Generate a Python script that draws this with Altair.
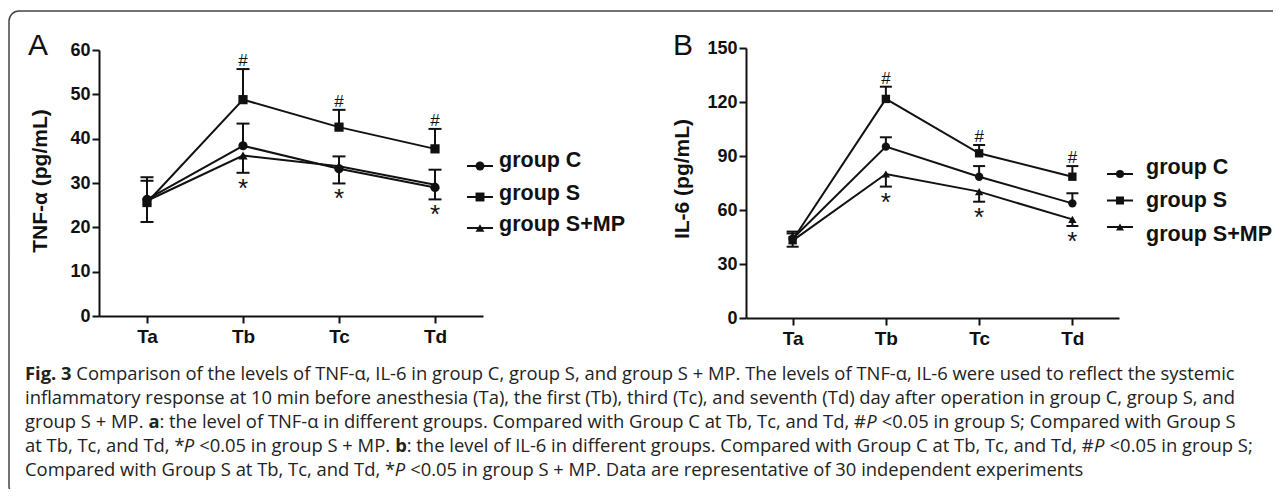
import altair as alt
import pandas as pd

# ---------------- data ----------------
times = ["Ta", "Tb", "Tc", "Td"]
groups = ["group C", "group S", "group S+MP"]
shapes = ["circle", "square", "triangle-up"]

tnf_C = [26.3, 38.4, 33.2, 29.0]
tnf_S = [25.6, 48.8, 42.6, 37.7]
tnf_MP = [26.0, 36.2, 33.8, 29.6]
tnf_err_C = [4.2, 5.0, 2.8, 4.0]
tnf_err_S = [5.7, 6.9, 3.9, 4.5]
tnf_err_MP = [4.8, 3.9, 3.9, 3.3]

il6_C = [44.0, 95.2, 78.5, 63.7]
il6_S = [43.3, 121.7, 91.5, 78.5]
il6_MP = [43.0, 80.0, 70.2, 54.8]
il6_err_C = [3.0, 5.2, 5.9, 5.6]
il6_err_S = [4.7, 6.8, 4.6, 5.9]
il6_err_MP = [3.4, 7.0, 5.6, 3.7]

err_sign = {"group C": 1, "group S": 1, "group S+MP": -1}
hash_marks = ["", "#", "#", "#"]   # group S vs group C
star_marks = ["", "*", "*", "*"]   # group S+MP vs group S

tnf_ticks = [0, 10, 20, 30, 40, 50, 60]
il6_ticks = [0, 30, 60, 90, 120, 150]

# caption text: (text, style, preceded by a space) segments per line
caption_lines = [
    [("Fig. 3", "b", 0),
     ("Comparison of the levels of TNF-α, IL-6 in group C, group S, and group S + MP. The levels of TNF-α, IL-6 were used to reflect the systemic", "n", 1)],
    [("inflammatory response at 10 min before anesthesia (Ta), the first (Tb), third (Tc), and seventh (Td) day after operation in group C, group S, and", "n", 0)],
    [("group S + MP.", "n", 0), ("a", "b", 1),
     (": the level of TNF-α in different groups. Compared with Group C at Tb, Tc, and Td, #", "n", 0),
     ("P", "i", 0), ("<0.05 in group S; Compared with Group S", "n", 1)],
    [("at Tb, Tc, and Td, *", "n", 0), ("P", "i", 0), ("<0.05 in group S + MP.", "n", 1), ("b", "b", 1),
     (": the level of IL-6 in different groups. Compared with Group C at Tb, Tc, and Td, #", "n", 0),
     ("P", "i", 0), ("<0.05 in group S;", "n", 1)],
    [("Compared with Group S at Tb, Tc, and Td, *", "n", 0), ("P", "i", 0),
     ("<0.05 in group S + MP. Data are representative of 30 independent experiments", "n", 1)],
]


def build_df(means, errs):
    rows = []
    for g, m_list, e_list in zip(groups, means, errs):
        for i, t in enumerate(times):
            m = m_list[i]
            e = e_list[i]
            if g == "group S":
                lab = hash_marks[i]
            elif g == "group S+MP":
                lab = star_marks[i]
            else:
                lab = ""
            rows.append(dict(time=t, group=g, mean=m, end=m + err_sign[g] * e, mark=lab))
    return pd.DataFrame(rows)


dfA = build_df([tnf_C, tnf_S, tnf_MP], [tnf_err_C, tnf_err_S, tnf_err_MP])
dfB = build_df([il6_C, il6_S, il6_MP], [il6_err_C, il6_err_S, il6_err_MP])
dummy = pd.DataFrame({"d": [0]})

# ---------------- layout ----------------
W, H = 1265, 481
FONT = "Liberation Sans"
CAPFONT = "Open Sans"
INK = "#111111"
CAPINK = "#222222"

# approximate Open Sans advance widths (units of 1/2048 em) used to chain caption segments
_reg = {" ": 532, "!": 547, "#": 1323, "(": 590, ")": 590, "*": 1106, "+": 1171, ",": 518, "-": 659,
        ".": 545, "/": 752, ":": 545, ";": 545, "<": 1171, "α": 1255,
        "A": 1296, "B": 1327, "C": 1292, "D": 1493, "E": 1139, "F": 1057, "G": 1491, "H": 1511,
        "I": 571, "L": 1063, "M": 1849, "N": 1544, "P": 1233, "S": 1112, "T": 1118,
        "a": 1139, "b": 1255, "c": 975, "d": 1255, "e": 1149, "f": 694, "g": 1122, "h": 1257,
        "i": 518, "j": 518, "k": 1075, "l": 518, "m": 1905, "n": 1257, "o": 1237, "p": 1255,
        "q": 1255, "r": 836, "s": 977, "t": 723, "u": 1257, "v": 1026, "w": 1593, "x": 1073,
        "y": 1028, "z": 977}
for _d in "0123456789":
    _reg[_d] = 1171
_bold = {"F": 1139, "i": 590, "g": 1157, ".": 586, " ": 532, "3": 1171, "a": 1219, "b": 1282}
_ital = {"P": 1190}


def text_w(s, style, size):
    tab = _bold if style == "b" else _ital if style == "i" else _reg
    return sum(tab.get(ch, _reg.get(ch, 1150)) for ch in s) / 2048.0 * size


def panel(df, xr, yr, ydom, yvals, psize, capw):
    xscale = alt.Scale(type="point", domain=times, range=xr, padding=0.5)
    yscale = alt.Scale(domain=ydom, range=yr, nice=False, zero=True)
    xaxis = alt.Axis(orient="bottom", offset=yr[0] - H, title=None, grid=False,
                     domainColor=INK, domainWidth=2, tickColor=INK, tickWidth=2, tickSize=7,
                     labelFont=FONT, labelFontSize=19, labelFontWeight="bold", labelColor=INK,
                     labelPadding=4, labelAngle=0)
    yaxis = alt.Axis(orient="left", offset=-xr[0], values=yvals, title=None, grid=False,
                     domainColor=INK, domainWidth=2, tickColor=INK, tickWidth=2, tickSize=7,
                     labelFont=FONT, labelFontSize=18, labelFontWeight="bold", labelColor=INK,
                     labelPadding=2)
    X = alt.X("time:N", sort=times, scale=xscale, axis=xaxis)
    Ym = alt.Y("mean:Q", scale=yscale, axis=yaxis)
    Ye = alt.Y("end:Q", scale=yscale, axis=yaxis)
    base = alt.Chart(df)
    lines = base.mark_line(color=INK, strokeWidth=2).encode(x=X, y=Ym, detail="group:N")
    bars = base.mark_rule(color=INK, strokeWidth=2).encode(x=X, y=Ym, y2="end:Q")
    caps = base.mark_tick(color=INK, thickness=2, size=capw, opacity=1).encode(x=X, y=Ye)
    pts = base.mark_point(filled=True, color=INK, size=psize, opacity=1).encode(
        x=X, y=Ym,
        shape=alt.Shape("group:N", scale=alt.Scale(domain=groups, range=shapes), legend=None))
    hashes = base.transform_filter(alt.datum.group == "group S").mark_text(
        font=FONT, fontSize=17, baseline="alphabetic", dy=-3, color=INK).encode(x=X, y=Ye, text="mark:N")
    stars = base.transform_filter(alt.datum.group == "group S+MP").mark_text(
        font=FONT, fontSize=26, baseline="top", dy=3, color=INK).encode(x=X, y=Ye, text="mark:N")
    return alt.layer(lines, bars, caps, pts, hashes, stars)


def legend(xl0, xl1, xs, xt, sym_ys, txt_ys, psize):
    layers = []
    for g, sh, ys, yt in zip(groups, shapes, sym_ys, txt_ys):
        c = alt.Chart(dummy)
        layers.append(c.mark_rule(color=INK, strokeWidth=2).encode(
            x=alt.value(xl0), x2=alt.value(xl1), y=alt.value(ys)))
        layers.append(c.mark_point(shape=sh, filled=True, size=psize, color=INK, opacity=1).encode(
            x=alt.value(xs), y=alt.value(ys)))
        layers.append(c.mark_text(text=g, font=FONT, fontSize=21.5, fontWeight="bold", align="left",
                                  baseline="alphabetic", color=INK).encode(
            x=alt.value(xt), y=alt.value(yt)))
    return layers


def label(txt, x, y, size, weight="normal", angle=0, align="left", baseline="alphabetic", font=FONT,
          style="normal", color=INK):
    kw = dict(text=txt, font=font, fontSize=size, fontWeight=weight, align=align,
              baseline=baseline, color=color, fontStyle=style)
    if angle:
        kw["angle"] = angle
    return alt.Chart(dummy).mark_text(**kw).encode(x=alt.value(x), y=alt.value(y))


panelA = panel(dfA, [91, 475], [308, 42], [0, 60], tnf_ticks, 85, 13)
panelB = panel(dfB, [738, 1111], [310, 40], [0, 150], il6_ticks, 70, 12)

extras = []
extras += legend(459, 485, 472, 491, [158, 189, 220], [159, 192, 223], 80)
extras += legend(1099, 1125, 1112, 1138, [166, 192.5, 219], [166, 199, 233], 64)
extras.append(label("A", 20, 47, 30))
extras.append(label("B", 665, 47, 30))
extras.append(label("TNF-α (pg/mL)", 33, 173, 21, "bold", angle=270, align="center", baseline="middle"))
extras.append(label("IL-6 (pg/mL)", 675, 171, 21, "bold", angle=270, align="center", baseline="middle"))

# border
extras.append(alt.Chart(dummy).mark_rect(fillOpacity=0, stroke="#444444", strokeWidth=1.5,
                                          cornerRadius=10).encode(
    x=alt.value(1), x2=alt.value(1320), y=alt.value(3), y2=alt.value(488)))

# caption, segments chained left to right
CAPSIZE = 18.4
cap_x0 = 17
cap_y0 = 372
cap_dy = 24
for i, segs in enumerate(caption_lines):
    x = cap_x0
    for txt, st, sp in segs:
        if sp:
            x += text_w(" ", "n", CAPSIZE)
        extras.append(label(txt, round(x, 1), cap_y0 + i * cap_dy, CAPSIZE,
                            weight="bold" if st == "b" else "normal",
                            style="italic" if st == "i" else "normal",
                            font=CAPFONT, color=CAPINK))
        x += text_w(txt, st, CAPSIZE)

chart = alt.layer(panelA, panelB, *extras).resolve_scale(
    x="independent", y="independent").resolve_axis(x="independent", y="independent").properties(
    width=W, height=H, padding=0, autosize=alt.AutoSizeParams(type="none"), background="white"
).configure_view(stroke=None)

chart.save("out.html", embed_options={"renderer": "svg", "actions": False})
